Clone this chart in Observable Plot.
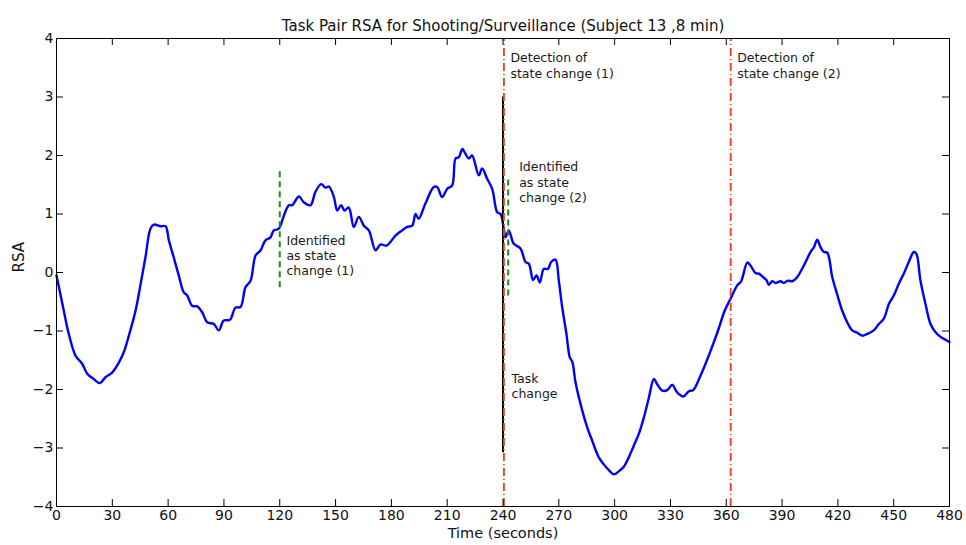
<!DOCTYPE html>
<html>
<head>
<meta charset="utf-8">
<script src="https://cdn.jsdelivr.net/npm/d3@7"></script>
<script src="https://cdn.jsdelivr.net/npm/@observablehq/plot@0.6"></script>
<style>
  html, body { margin: 0; padding: 0; background: #fff; }
  #chart svg { display: block; }
</style>
</head>
<body>
<div id="chart"></div>
<script>
// RSA series (time in seconds, value)
const time = [0,3.9,6.6,10.2,13.8,16.5,20,23.3,26.3,29.9,33.5,36.2,38.9,42.5,45.1,47.8,50.5,52.3,55.9,58.6,60.4,63,65.7,68.4,70.2,72.9,75.6,78.3,81,84.6,87.2,89.9,93.2,96.2,98.9,101.6,104.3,107,109.7,112.3,115,116.8,119.5,122.2,124.9,126.7,130.3,132.9,136.5,139.2,142.3,144.6,146.4,149.1,150.9,153,154.8,157.1,159.8,162.5,165.2,167.9,171.5,174.2,177.4,182.2,185.8,188.5,191.2,193,194.7,198.3,202.8,204.6,207.3,210,212.7,214.5,216.2,218.2,219.8,221.6,223.4,227,228.8,231.5,234.2,236.9,238.7,240.4,241.3,243.1,245.8,249.4,252.1,253.9,256.2,258,259.8,261.9,264.1,265.9,268.2,270,271.8,274.1,275.9,277.2,279,281.7,285.3,288,291.5,294.2,296.9,299.6,302.2,304.9,307.6,310.3,313,315.7,318.4,321.1,322.9,325.6,328.3,331,333.6,336.9,339.9,342.2,346.2,350.6,355.5,359.2,362.3,365.9,368,371.3,373,375.7,377.5,380.2,381.6,382.9,384.7,386.5,389.2,390.9,393.1,395.5,398.1,401.7,405.3,407.1,408.9,410.7,412.5,414.3,417,419.6,422.3,425,427.7,430.4,433.1,435.8,439.3,442,444.7,447.4,450.1,452.8,455.4,458.1,460.8,462.2,464.4,467.1,469.8,472.5,475.2,477.9,480];
const rsa = [-0.05,-0.65,-1.05,-1.42,-1.56,-1.73,-1.82,-1.89,-1.79,-1.71,-1.54,-1.36,-1.08,-0.65,-0.22,0.26,0.75,0.82,0.79,0.79,0.55,0.26,-0.05,-0.34,-0.39,-0.57,-0.58,-0.68,-0.85,-0.88,-0.99,-0.82,-0.81,-0.60,-0.59,-0.25,-0.14,0.29,0.38,0.55,0.60,0.72,0.75,0.97,1.15,1.15,1.30,1.20,1.15,1.38,1.51,1.45,1.47,1.29,1.06,1.15,1.06,1.11,0.78,0.95,0.80,0.72,0.38,0.48,0.46,0.63,0.72,0.78,0.80,1.00,0.92,1.18,1.46,1.46,1.29,1.43,1.49,1.95,1.97,2.11,2.03,1.95,2.00,1.66,1.78,1.60,1.43,1.03,1.00,0.75,0.60,0.72,0.49,0.41,0.18,0.15,-0.13,-0.05,-0.17,0.06,0.06,0.18,0.22,-0.14,-0.59,-1.05,-1.45,-1.52,-1.88,-2.25,-2.65,-2.88,-3.16,-3.28,-3.38,-3.45,-3.40,-3.32,-3.16,-2.96,-2.76,-2.48,-2.14,-1.82,-1.91,-2.02,-2.01,-1.92,-2.05,-2.12,-2.03,-2.01,-1.76,-1.42,-1.0,-0.65,-0.45,-0.22,-0.15,0.17,0.12,-0.01,-0.02,-0.09,-0.13,-0.21,-0.15,-0.18,-0.15,-0.18,-0.14,-0.15,-0.08,0.12,0.35,0.43,0.56,0.43,0.35,0.34,-0.08,-0.37,-0.65,-0.85,-0.99,-1.03,-1.08,-1.05,-0.99,-0.88,-0.79,-0.54,-0.39,-0.19,-0.02,0.18,0.35,0.32,-0.14,-0.54,-0.88,-1.02,-1.10,-1.15,-1.19];

// axis ticks
const xTicks = [0, 30, 60, 90, 120, 150, 180, 210, 240, 270, 300, 330, 360, 390, 420, 450, 480];
const yTicks = [-4, -3, -2, -1, 0, 1, 2, 3, 4];

// event markers: kind, time, from, to
const markerKind = ["identified", "identified", "task", "detection", "detection"];
const markerTime = [120, 242.8, 240, 240.5, 362.4];
const markerFrom = [-0.26, -0.40, -3.08, -4, -4];
const markerTo   = [1.78, 1.65, 3.0, 4, 4];

// annotations: text, time, value (block centre)
const noteText = ["Detection of\nstate change (1)", "Detection of\nstate change (2)", "Identified\nas state\nchange (2)", "Identified\nas state\nchange (1)", "Task\nchange"];
const noteTime = [244.0, 365.9, 248.7, 123.6, 244.6];
const noteValue = [3.545, 3.545, 1.55, 0.30, -1.935];

const series = time.map((t, i) => ({t, v: rsa[i]}));
const markers = markerKind.map((k, i) => ({k, t: markerTime[i], a: markerFrom[i], b: markerTo[i]}));
const notes = noteText.map((s, i) => ({s, t: noteTime[i], v: noteValue[i]}));

const font = "DejaVu Sans, sans-serif";
const W = 966, H = 545, ML = 56, MR = 17, MT = 38, MB = 39;
const fw = W - ML - MR, fh = H - MT - MB, tk = 7;
const fmt = d => (d < 0 ? "\u2212" : "") + Math.abs(d);

const chart = Plot.plot({
  width: W,
  height: H,
  marginLeft: ML,
  marginRight: MR,
  marginTop: MT,
  marginBottom: MB,
  style: {fontFamily: font, fontSize: "14px", color: "#111", background: "#fff"},
  x: {domain: [0, 480], label: null},
  y: {domain: [-4, 4], label: null},
  marks: [
    Plot.line(series, {x: "t", y: "v", stroke: "#0000ff", strokeWidth: 2.4, curve: "catmull-rom"}),
    Plot.ruleX(markers.filter(d => d.k === "identified"), {x: "t", y1: "a", y2: "b", stroke: "#1a8c1a", strokeWidth: 2, strokeDasharray: "6,4"}),
    Plot.ruleX(markers.filter(d => d.k === "task"), {x: "t", y1: "a", y2: "b", stroke: "#000", strokeWidth: 2}),
    Plot.ruleX(markers.filter(d => d.k === "detection"), {x: "t", y1: "a", y2: "b", stroke: "#f03a1c", strokeWidth: 1.8, strokeDasharray: "8,3,1,3"}),
    Plot.text(notes, {x: "t", y: "v", text: "s", textAnchor: "start", lineAnchor: "middle", lineHeight: 1.22, fontSize: 12.5, fill: "#1a1a1a"}),
    // inward ticks on all four sides
    Plot.ruleX(xTicks, {x: d => d, insetTop: fh - tk, stroke: "#000"}),
    Plot.ruleX(xTicks, {x: d => d, insetBottom: fh - tk, stroke: "#000"}),
    Plot.ruleY(yTicks, {y: d => d, insetRight: fw - tk, stroke: "#000"}),
    Plot.ruleY(yTicks, {y: d => d, insetLeft: fw - tk, stroke: "#000"}),
    Plot.frame({stroke: "#000", strokeWidth: 1}),
    Plot.axisX(xTicks, {anchor: "bottom", tickSize: 0, tickPadding: 4, tickFormat: fmt, label: null, fontSize: 14}),
    Plot.axisY(yTicks, {anchor: "left", tickSize: 0, tickPadding: 3, tickFormat: fmt, label: null, fontSize: 14}),
    Plot.text(["Task Pair RSA for Shooting/Surveillance (Subject 13 ,8 min)"], {frameAnchor: "top", dy: -18, fontSize: 15, fill: "#111"}),
    Plot.text(["Time (seconds)"], {frameAnchor: "bottom", dy: 31, fontSize: 14.5, fill: "#111"}),
    Plot.text(["RSA"], {frameAnchor: "left", dx: -37, rotate: -90, fontSize: 15, fill: "#111"})
  ]
});
document.getElementById("chart").appendChild(chart);
</script>
</body>
</html>
